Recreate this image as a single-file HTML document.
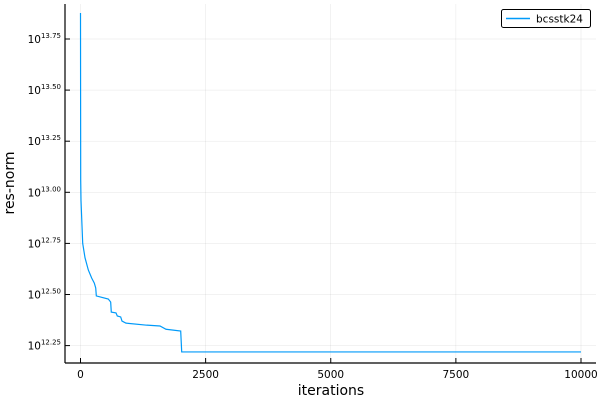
<!DOCTYPE html>
<html><head><meta charset="utf-8"><style>
html,body{margin:0;padding:0;background:#fff;}
svg{display:block;font-family:"DejaVu Sans","Liberation Sans",sans-serif;}
</style></head><body>
<svg id="chart" width="600" height="400" viewBox="0 0 600 400">
<rect width="600" height="400" fill="#fff"/>
<g id="grid"></g>
<g id="axes"></g>
<polyline id="series" fill="none" stroke="#009af9" stroke-width="1.2"/>
<text x="331" y="395" text-anchor="middle" font-size="14" fill="#000">iterations</text>
<text transform="translate(14,183) rotate(-90)" text-anchor="middle" font-size="14" fill="#000">res-norm</text>
<g>
<rect x="501.5" y="9.5" width="89" height="18" rx="2" fill="#fff" stroke="#000" stroke-width="1"/>
<line x1="506" y1="18.5" x2="530" y2="18.5" stroke="#009af9" stroke-width="1.5"/>
<text x="536" y="22.5" font-size="10.5" fill="#000">bcsstk24</text>
</g>
</svg>
<script>
const xTicks=[0,2500,5000,7500,10000];
const xTickLabels=["0","2500","5000","7500","10000"];
const yTicks=[12.25,12.5,12.75,13.0,13.25,13.5,13.75];
const yTickLabels=["12.25","12.50","12.75","13.00","13.25","13.50","13.75"];
const iters=[0,2,4,10,44,90,156,224,276,304,316,555,603,615,709,735,803,829,909,1323,1588,1708,2002,2022,10000];
const log10Res=[13.877,13.45,13.06,12.96,12.75,12.68,12.62,12.58,12.556,12.532,12.493,12.478,12.463,12.414,12.41,12.395,12.39,12.37,12.36,12.35,12.346,12.33,12.321,12.219,12.219];
const NS="http://www.w3.org/2000/svg";
const L=65,R=596,T=4,B=363;
function xs(v){return 80.5+v*(500.5/10000);}
function ys(v){return 39+(13.75-v)*204.4;}
const grid=document.getElementById('grid'),axes=document.getElementById('axes');
function mk(tag,attrs,parent){const e=document.createElementNS(NS,tag);for(const k in attrs)e.setAttribute(k,attrs[k]);parent.appendChild(e);return e;}
xTicks.forEach((t,i)=>{
 const x=xs(t);
 const g=mk('line',{x1:x,x2:x,y1:T,y2:B,stroke:'#000','stroke-opacity':0.1,'stroke-width':0.5},grid);
 
 
 const tk=mk('line',{x1:x,x2:x,y1:B,y2:B-5,stroke:'#000','stroke-width':1},axes);
 
 
 const tx=mk('text',{x:x,y:B+15,'text-anchor':'middle','font-size':10.5,fill:'#000'},axes);
 tx.textContent=xTickLabels[i];
 
 
});
yTicks.forEach((t,i)=>{
 const y=ys(t);
 const g=mk('line',{x1:L,x2:R,y1:y,y2:y,stroke:'#000','stroke-opacity':0.1,'stroke-width':0.5},grid);
 
 
 const tk=mk('line',{x1:L,x2:L+5,y1:y,y2:y,stroke:'#000','stroke-width':1},axes);
 
 
 const tx=mk('text',{x:L-4,y:y+4,'text-anchor':'end','font-size':10.5,fill:'#000'},axes);
 
 
 const base=document.createElementNS(NS,'tspan');base.textContent='10';tx.appendChild(base);
 const sup=document.createElementNS(NS,'tspan');sup.setAttribute('font-size','7');sup.setAttribute('dy','-5');sup.textContent=yTickLabels[i];tx.appendChild(sup);
});
const ax1=mk('line',{x1:L,x2:L,y1:T,y2:B,stroke:'#000','stroke-width':1.2},axes);


const ax2=mk('line',{x1:L,x2:R,y1:B,y2:B,stroke:'#000','stroke-width':1.2},axes);


document.getElementById('series').setAttribute('points',iters.map((v,i)=>xs(v).toFixed(2)+','+ys(log10Res[i]).toFixed(2)).join(' '));
</script>
</body></html>
